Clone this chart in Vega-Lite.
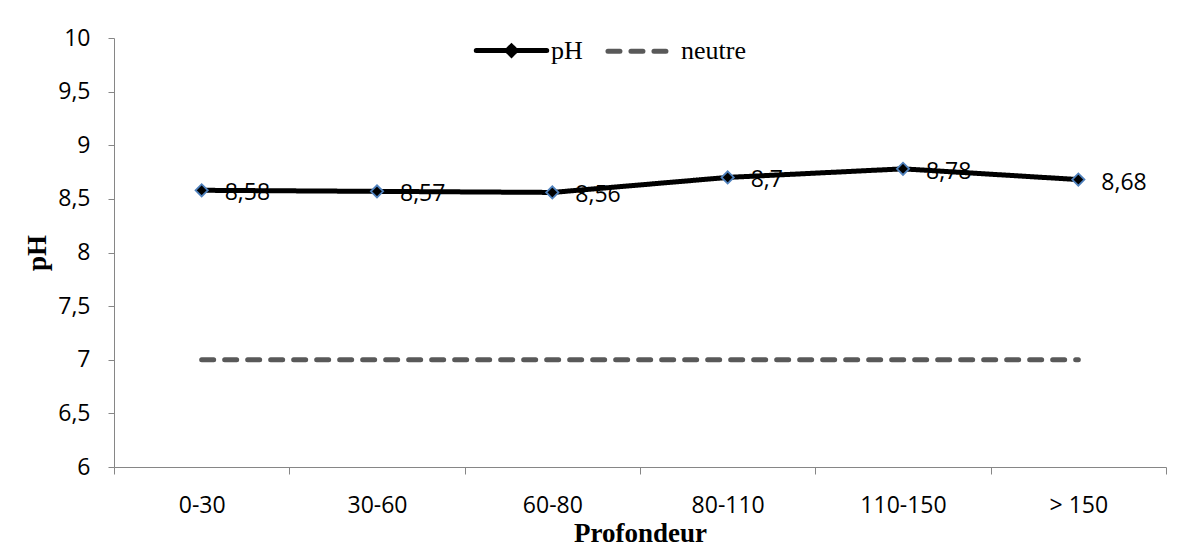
{
  "$schema": "https://vega.github.io/schema/vega-lite/v6.json",
  "autosize": "none",
  "width": 1052,
  "height": 429,
  "padding": {"left": 114, "top": 38, "right": 32, "bottom": 82},
  "background": "#ffffff",
  "config": {
    "locale": {"number": {"decimal": ",", "thousands": " ", "grouping": [3], "currency": ["", " €"]}},
    "view": {"stroke": null},
    "axis": {
      "domainColor": "#868686",
      "tickColor": "#868686",
      "grid": false,
      "labelFont": "Open Sans",
      "labelFontSize": 23,
      "labelColor": "#000000",
      "titleFont": "Liberation Serif",
      "titleFontSize": 27,
      "titleFontWeight": "bold",
      "titleColor": "#000000"
    }
  },
  "data": {
    "values": [
      {"profondeur": "0-30", "serie": "pH", "valeur": 8.58},
      {"profondeur": "30-60", "serie": "pH", "valeur": 8.57},
      {"profondeur": "60-80", "serie": "pH", "valeur": 8.56},
      {"profondeur": "80-110", "serie": "pH", "valeur": 8.7},
      {"profondeur": "110-150", "serie": "pH", "valeur": 8.78},
      {"profondeur": "> 150", "serie": "pH", "valeur": 8.68},
      {"profondeur": "0-30", "serie": "neutre", "valeur": 7},
      {"profondeur": "30-60", "serie": "neutre", "valeur": 7},
      {"profondeur": "60-80", "serie": "neutre", "valeur": 7},
      {"profondeur": "80-110", "serie": "neutre", "valeur": 7},
      {"profondeur": "110-150", "serie": "neutre", "valeur": 7},
      {"profondeur": "> 150", "serie": "neutre", "valeur": 7}
    ]
  },
  "encoding": {
    "x": {
      "field": "profondeur",
      "type": "nominal",
      "sort": ["0-30", "30-60", "60-80", "80-110", "110-150", "> 150"],
      "scale": {"paddingInner": 0, "paddingOuter": 0},
      "axis": {
        "title": "Profondeur",
        "labelAngle": 0,
        "tickBand": "extent",
        "tickSize": 7,
        "labelPadding": 20,
        "titlePadding": 3
      }
    },
    "y": {
      "field": "valeur",
      "type": "quantitative",
      "scale": {"domain": [6, 10], "nice": false, "zero": false},
      "axis": {
        "title": "pH",
        "values": [6, 6.5, 7, 7.5, 8, 8.5, 9, 9.5, 10],
        "format": "~g",
        "tickSize": 6,
        "labelPadding": 18,
        "titlePadding": 6
      }
    }
  },
  "layer": [
    {
      "mark": {"type": "line", "strokeWidth": 5, "strokeCap": "round", "strokeJoin": "round"},
      "encoding": {
        "color": {
          "field": "serie",
          "type": "nominal",
          "scale": {"domain": ["pH", "neutre"], "range": ["#000000", "#595959"]},
          "legend": {
            "title": null,
            "orient": "none",
            "direction": "horizontal",
            "legendX": 361,
            "legendY": -24,
            "padding": 0,
            "symbolType": "stroke",
            "symbolSize": 4500,
            "symbolStrokeWidth": 5,
            "labelFont": "Liberation Serif",
            "labelFontSize": 26,
            "labelColor": "#000000",
            "labelOffset": 3,
            "columnPadding": 14,
            "encode": {
              "symbols": {
                "update": {
                  "shape": {"signal": "datum.value === 'pH' ? 'M-1.05,0L1.05,0M0,-0.13L0.13,0L0,0.13L-0.13,0Z' : 'stroke'"},
                  "fill": {"signal": "datum.value === 'pH' ? '#000000' : 'transparent'"},
                  "strokeCap": {"value": "round"}
                }
              }
            }
          }
        },
        "strokeDash": {
          "field": "serie",
          "type": "nominal",
          "scale": {"domain": ["pH", "neutre"], "range": [[1, 0], [12, 11]]}
        }
      }
    },
    {
      "transform": [{"filter": "datum.serie === 'pH'"}],
      "mark": {"type": "point", "shape": "diamond", "filled": true, "fill": "#000000", "stroke": "#4F81BD", "strokeWidth": 1.8, "size": 150, "opacity": 1}
    },
    {
      "transform": [{"filter": "datum.serie === 'pH'"}],
      "mark": {"type": "text", "align": "left", "baseline": "middle", "dx": 23, "dy": 3, "font": "Open Sans", "fontSize": 23, "color": "#000000"},
      "encoding": {
        "text": {"field": "valeur", "type": "quantitative", "format": "~g"}
      }
    }
  ]
}
